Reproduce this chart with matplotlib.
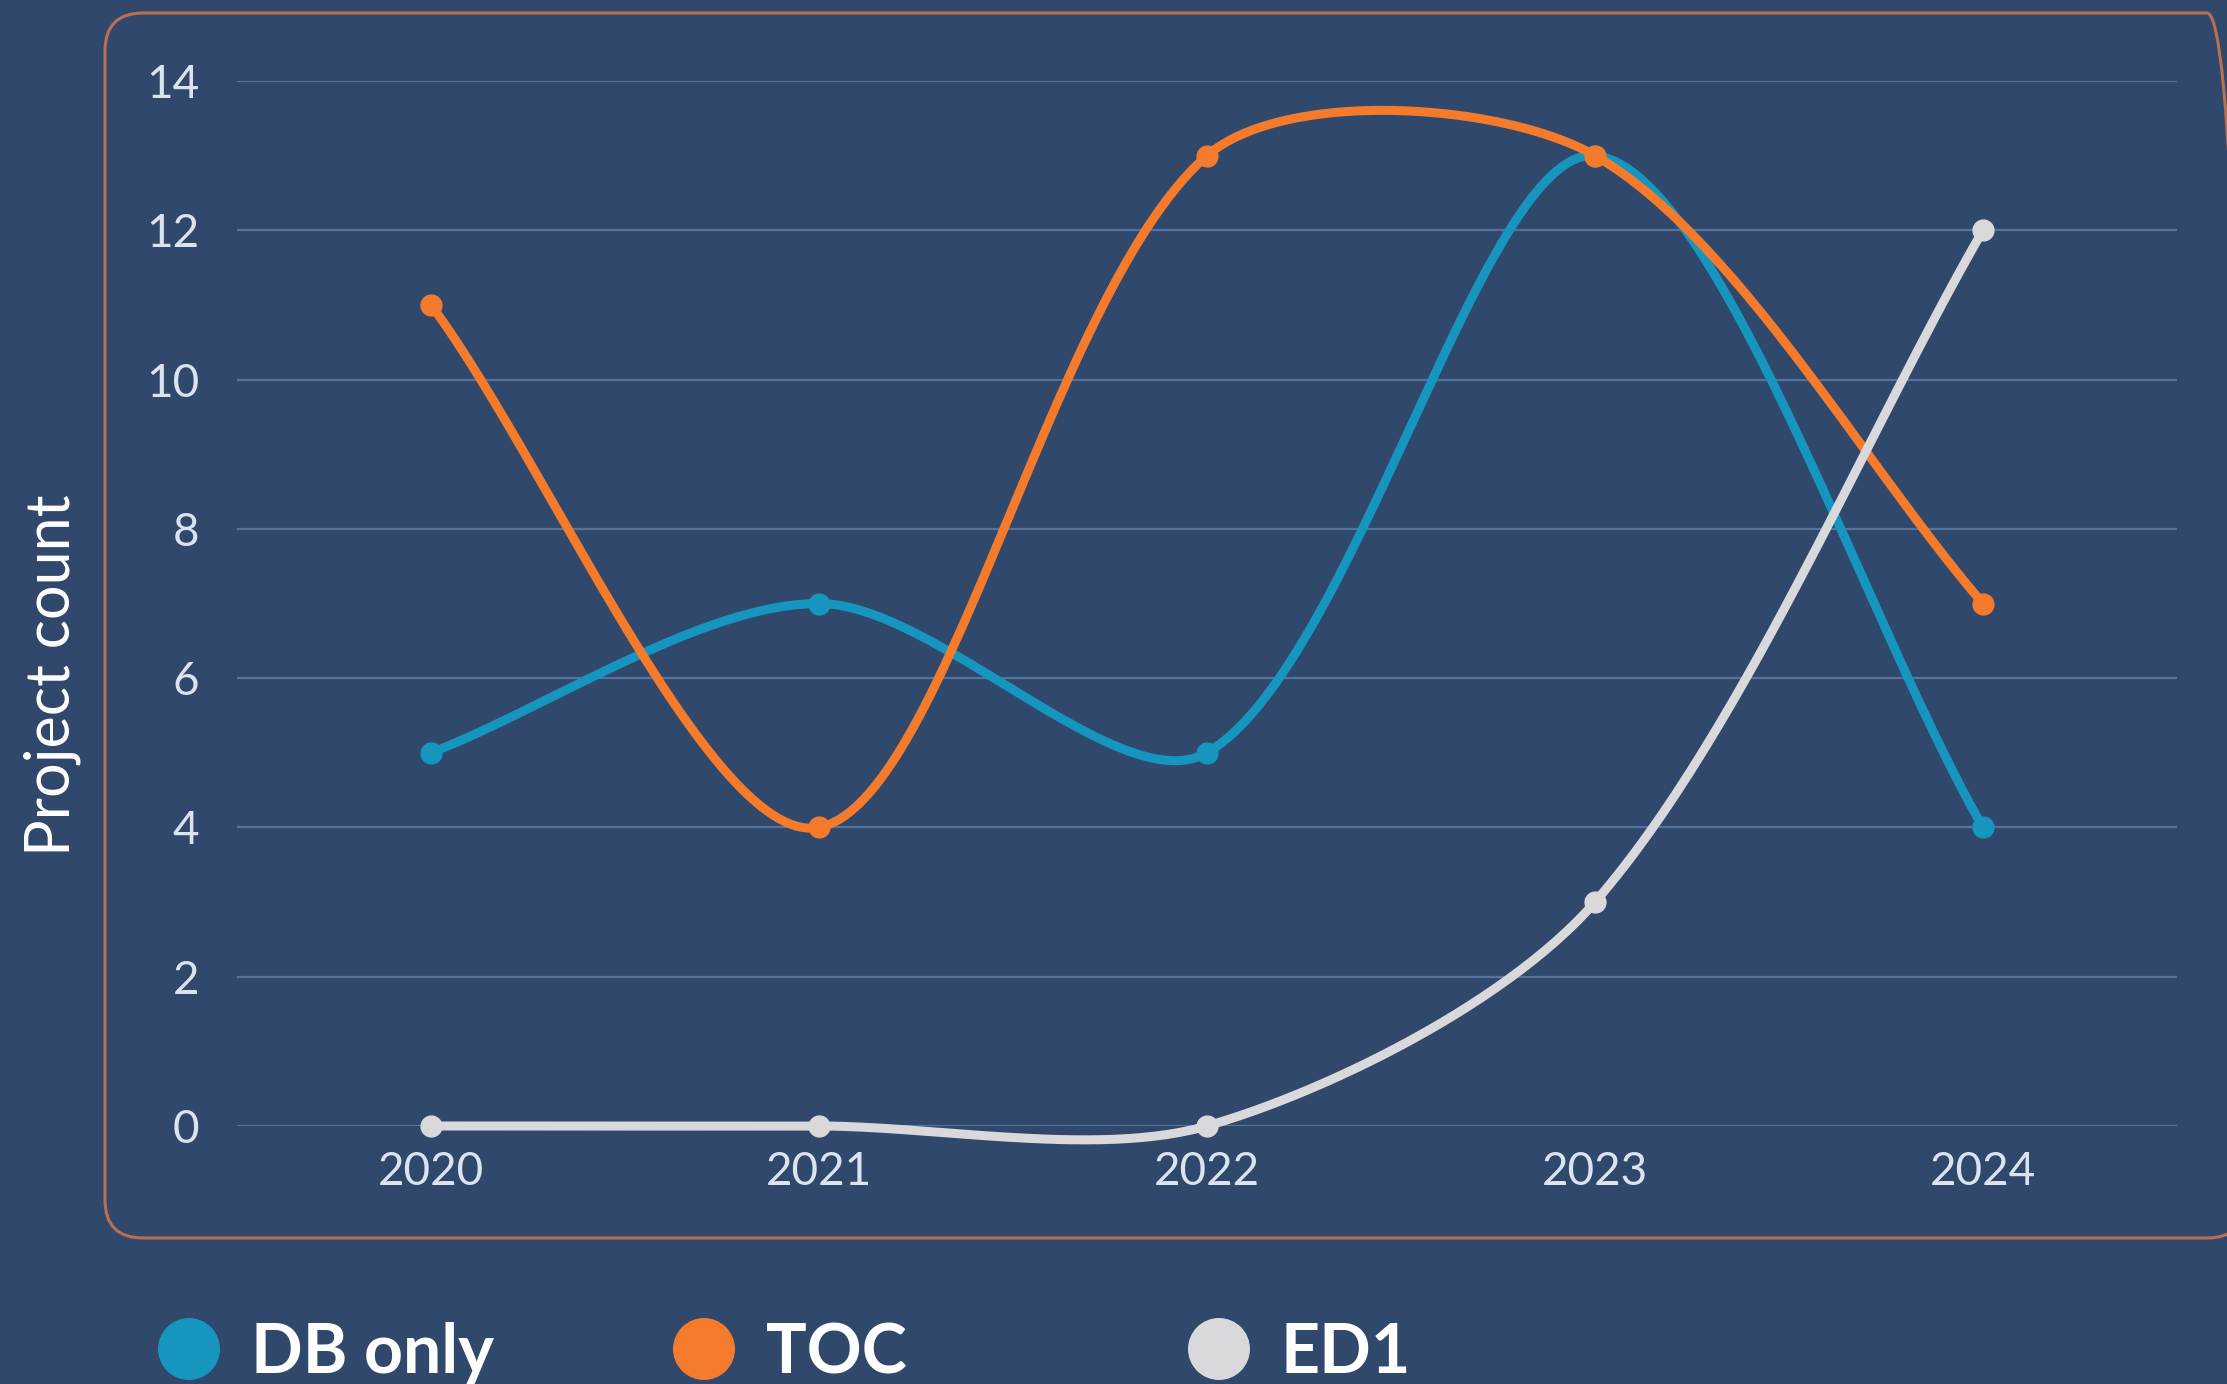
import numpy as np
import matplotlib
matplotlib.use("Agg")
import matplotlib.pyplot as plt
from matplotlib.patches import FancyBboxPatch, Circle
from matplotlib.transforms import IdentityTransform

# data
years = [2020, 2021, 2022, 2023, 2024]
db_only = [5, 7, 5, 13, 4]
toc = [11, 4, 13, 13, 7]
ed1 = [0, 0, 0, 3, 12]
series_names = ["DB only", "TOC", "ED1"]
series_colors = ["#1696bf", "#f47a2c", "#d9d9dc"]
y_ticks = [0, 2, 4, 6, 8, 10, 12, 14]

BG = "#2f486c"
GRID = "#56739c"
TICK = "#dbe4ee"

W, H = 2227, 1384


def spline_path(ax, xs, ys, tension=0.3, n=60):
    # chart.js style bezier smoothing, done in pixel space
    pts = ax.transData.transform(np.column_stack([xs, ys]))
    cps = []
    for i in range(len(pts)):
        cur = pts[i]
        prev = pts[i - 1] if i > 0 else cur
        nxt = pts[i + 1] if i < len(pts) - 1 else cur
        d01 = np.hypot(*(cur - prev))
        d12 = np.hypot(*(nxt - cur))
        tot = d01 + d12
        s01 = d01 / tot if tot else 0
        s12 = d12 / tot if tot else 0
        cps.append((cur - tension * s01 * (nxt - prev),
                    cur + tension * s12 * (nxt - prev)))
    out = []
    t = np.linspace(0, 1, n)[:, None]
    for i in range(len(pts) - 1):
        p0, p1 = pts[i], cps[i][1]
        p2, p3 = cps[i + 1][0], pts[i + 1]
        seg = ((1 - t) ** 3) * p0 + 3 * ((1 - t) ** 2) * t * p1 \
            + 3 * (1 - t) * t ** 2 * p2 + t ** 3 * p3
        out.append(seg if i == 0 else seg[1:])
    out = np.vstack(out)
    return ax.transData.inverted().transform(out)


fig = plt.figure(figsize=(W / 100, H / 100), dpi=100, facecolor=BG)

# rounded frame around the plot
frame = FancyBboxPatch((105, 146), 2140, 1225,
                       boxstyle="round,pad=0,rounding_size=38",
                       transform=IdentityTransform(), facecolor="none",
                       edgecolor="#b8704f", linewidth=2.2, zorder=0)
fig.patches.append(frame)

ax = fig.add_axes([237 / W, 1 - 1126 / H, (2177 - 237) / W, (1126 - 81) / H])
ax.set_facecolor("none")
ax.set_xlim(2019.5, 2024.5)
ax.set_ylim(0, 14)
for s in ax.spines.values():
    s.set_visible(False)
ax.set_yticks(y_ticks)
ax.set_xticks(years)
ax.yaxis.grid(True, color=GRID, linewidth=1.6)
ax.set_axisbelow(True)
ax.tick_params(axis="both", length=0, colors=TICK, labelsize=33)
ax.tick_params(axis="y", pad=27)
ax.tick_params(axis="x", pad=18)
for lab in ax.get_xticklabels() + ax.get_yticklabels():
    lab.set_fontfamily("Lato")

fig.text(52 / W, 1 - 675 / H, "Project count", rotation=90, ha="center",
         va="center", color="white", fontsize=44, family="Lato")

fig.canvas.draw()
for k, vals in enumerate([db_only, toc, ed1]):
    c = series_colors[k]
    curve = spline_path(ax, years, vals)
    ax.plot(curve[:, 0], curve[:, 1], color=c, lw=6.5, clip_on=False,
            solid_capstyle="round", zorder=3 + k)
    ax.plot(years, vals, "o", color=c, markersize=15, clip_on=False,
            zorder=3 + k)

# legend
for k, name in enumerate(series_names):
    cx = 189 + k * 515
    fig.patches.append(Circle((cx, H - 1349), 31, transform=IdentityTransform(),
                              facecolor=series_colors[k], edgecolor="none"))
    fig.text((cx + 62) / W, (H - 1373) / H, name, color="white", fontsize=49,
             fontweight="bold", family="Lato", ha="left", va="baseline")

fig.savefig("out.png", dpi=100, facecolor=BG)
